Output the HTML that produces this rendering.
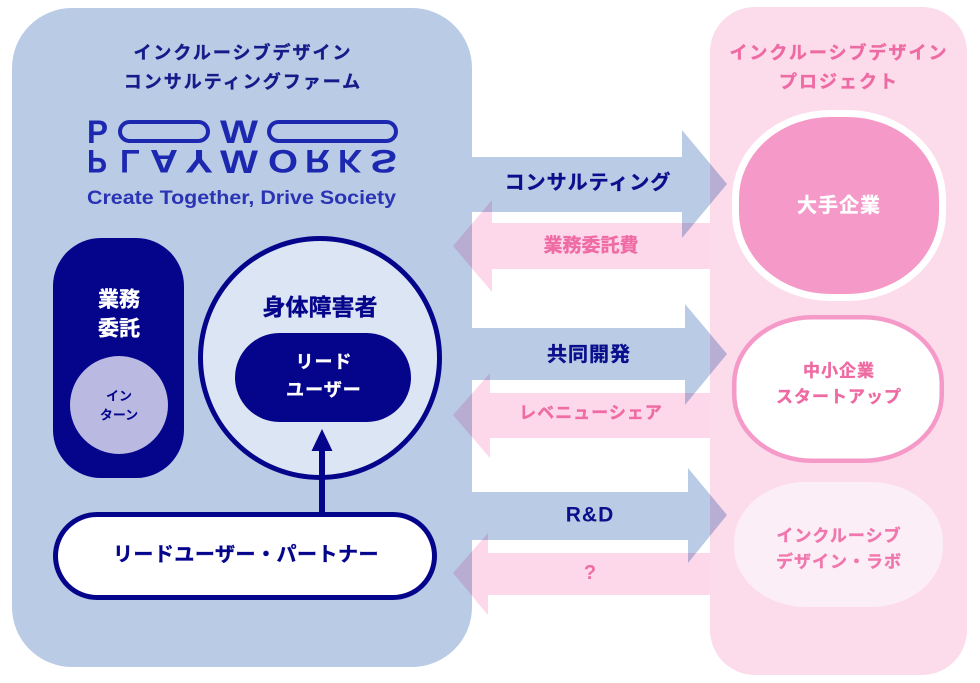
<!DOCTYPE html>
<html><head><meta charset="utf-8">
<style>
html,body{margin:0;padding:0;background:#fff;}
body{width:980px;height:678px;overflow:hidden;}
svg text{font-family:"Liberation Sans","Noto Sans CJK JP",sans-serif;font-weight:bold;}
.m{mix-blend-mode:multiply;}
.s{stroke:currentColor;stroke-width:0.35;}
</style></head>
<body>
<svg width="980" height="678" viewBox="0 0 980 678" xmlns="http://www.w3.org/2000/svg">
  <!-- panels -->
  <rect x="12" y="8" width="460" height="659" rx="60" fill="#bacbe5"/>
  <rect x="710" y="7" width="257" height="668" rx="45" fill="#fcdbeb"/>

  <!-- blue arrows -->
  <g fill="#bacbe5" class="m">
    <polygon points="472,157 682,157 682,130 727,184 682,238 682,212 472,212"/>
    <polygon points="472,328 685,328 685,304 727,354 685,405 685,380 472,380"/>
    <polygon points="472,492 688,492 688,468 727,515 688,563 688,540 472,540"/>
  </g>
  <!-- pink arrows -->
  <g fill="#fcd8ea" class="m">
    <polygon points="710,223 492,223 492,200 453,246 492,292 492,269 710,269"/>
    <polygon points="710,393 490,393 490,373 453,415 490,458 490,438 710,438"/>
    <polygon points="710,553 488,553 488,533 453,573 488,615 488,595 710,595"/>
  </g>

  <!-- left header -->
  <g fill="#141c8a" color="#141c8a" font-size="18" text-anchor="middle" letter-spacing="2">
    <text class="s" x="243" y="53" dominant-baseline="central">インクルーシブデザイン</text>
    <text class="s" x="243" y="82" dominant-baseline="central">コンサルティングファーム</text>
  </g>

  <!-- logo -->
  <g fill="#1d28b0">
    <text x="87" y="143" font-size="32" textLength="21" lengthAdjust="spacingAndGlyphs">P</text>
    <rect x="120" y="122" width="88" height="19" rx="9.5" fill="none" stroke="#1d28b0" stroke-width="4"/>
    <text x="220" y="143" font-size="32" textLength="38" lengthAdjust="spacingAndGlyphs">W</text>
    <rect x="269" y="122" width="127" height="19" rx="9.5" fill="none" stroke="#1d28b0" stroke-width="4"/>
    <g transform="translate(0,323) scale(1,-1)" font-size="32">
      <text x="87" y="173" textLength="20" lengthAdjust="spacingAndGlyphs">P</text>
      <text x="120" y="173" textLength="20" lengthAdjust="spacingAndGlyphs">L</text>
      <text x="150" y="173" textLength="28" lengthAdjust="spacingAndGlyphs">A</text>
      <text x="185" y="173" textLength="28" lengthAdjust="spacingAndGlyphs">Y</text>
      <text x="268" y="173" textLength="30" lengthAdjust="spacingAndGlyphs">O</text>
      <text x="305" y="173" textLength="25" lengthAdjust="spacingAndGlyphs">R</text>
      <text x="338" y="173" textLength="24" lengthAdjust="spacingAndGlyphs">K</text>
      <text x="370" y="173" textLength="27" lengthAdjust="spacingAndGlyphs">S</text>
    </g>
    <text x="220" y="173" font-size="32" textLength="38" lengthAdjust="spacingAndGlyphs">W</text>
    <text x="87" y="204" font-size="19" fill="#2a34b4" textLength="309" lengthAdjust="spacingAndGlyphs">Create Together, Drive Society</text>
  </g>

  <!-- 業務委託 box -->
  <rect x="53" y="238" width="131" height="240" rx="48" fill="#05058c"/>
  <g fill="#fff" color="#fff" font-size="21" text-anchor="middle">
    <text class="s" x="119" y="300" dominant-baseline="central">業務</text>
    <text class="s" x="119" y="329" dominant-baseline="central">委託</text>
  </g>
  <circle cx="119" cy="405" r="49" fill="#b9b9e2"/>
  <g fill="#05058c" font-size="13" text-anchor="middle">
    <text x="119" y="396" dominant-baseline="central">イン</text>
    <text x="119" y="415" dominant-baseline="central">ターン</text>
  </g>

  <!-- 身体障害者 circle -->
  <circle cx="320" cy="358" r="119.5" fill="#dce5f3" stroke="#05058c" stroke-width="5"/>
  <text class="s" x="320" y="307" font-size="23" fill="#05058c" color="#05058c" text-anchor="middle" dominant-baseline="central">身体障害者</text>
  <rect x="235" y="333" width="176" height="89" rx="44.5" fill="#05058c"/>
  <g fill="#fff" color="#fff" font-size="18" text-anchor="middle" letter-spacing="1">
    <text class="s" x="324" y="362" dominant-baseline="central">リード</text>
    <text class="s" x="324" y="390" dominant-baseline="central">ユーザー</text>
  </g>
  <!-- up arrow -->
  <rect x="319" y="447" width="6" height="67" fill="#05058c"/>
  <polygon points="311.5,451 332.5,451 322,429" fill="#05058c"/>

  <!-- partner pill -->
  <rect x="55.5" y="514.5" width="379" height="83" rx="41.5" fill="#fff" stroke="#05058c" stroke-width="5"/>
  <text class="s" x="246" y="555" font-size="20" fill="#05058c" color="#05058c" text-anchor="middle" dominant-baseline="central" letter-spacing="0.5">リードユーザー・パートナー</text>

  <!-- arrow labels -->
  <g font-size="20" text-anchor="middle" fill="#0a0f8c" color="#0a0f8c">
    <text class="s" x="588" y="183" dominant-baseline="central" letter-spacing="1">コンサルティング</text>
    <text class="s" x="589" y="355" dominant-baseline="central" letter-spacing="1">共同開発</text>
    <text x="590" y="515" font-size="21" dominant-baseline="central" letter-spacing="1">R&amp;D</text>
  </g>
  <g font-size="18" text-anchor="middle" fill="#ef6ba4" color="#ef6ba4">
    <text class="s" x="591" y="246" font-size="19" dominant-baseline="central">業務委託費</text>
    <text class="s" x="591" y="413" font-size="17" dominant-baseline="central" letter-spacing="1">レベニューシェア</text>
    <text x="590" y="573" font-size="20" dominant-baseline="central">?</text>
  </g>

  <!-- right header -->
  <g fill="#ee6aa2" color="#ee6aa2" font-size="18" text-anchor="middle" letter-spacing="2">
    <text class="s" x="839" y="53" dominant-baseline="central">インクルーシブデザイン</text>
    <text class="s" x="839" y="82" dominant-baseline="central">プロジェクト</text>
  </g>

  <!-- 大手企業 -->
  <rect x="735.5" y="113.5" width="207" height="184" rx="95" ry="85" fill="#f59ac8" stroke="#fff" stroke-width="7"/>
  <text class="s" x="839" y="206" font-size="20" fill="#fff" color="#fff" text-anchor="middle" dominant-baseline="central" letter-spacing="1">大手企業</text>

  <!-- 中小企業 -->
  <rect x="734.25" y="317.25" width="207.5" height="143.5" rx="78" ry="66" fill="#fff" stroke="#f59ac8" stroke-width="4.5"/>
  <g fill="#ee6aa2" color="#ee6aa2" font-size="17" text-anchor="middle" letter-spacing="1">
    <text class="s" x="839" y="371" dominant-baseline="central">中小企業</text>
    <text class="s" x="839" y="397" dominant-baseline="central">スタートアップ</text>
  </g>

  <!-- Lab -->
  <rect x="734" y="482" width="209" height="125" rx="72" ry="60" fill="#fbeef6"/>
  <g fill="#f077ad" color="#f077ad" font-size="17" text-anchor="middle" letter-spacing="1">
    <text class="s" x="839" y="536" dominant-baseline="central">インクルーシブ</text>
    <text class="s" x="839" y="562" dominant-baseline="central">デザイン・ラボ</text>
  </g>
</svg>
</body></html>
